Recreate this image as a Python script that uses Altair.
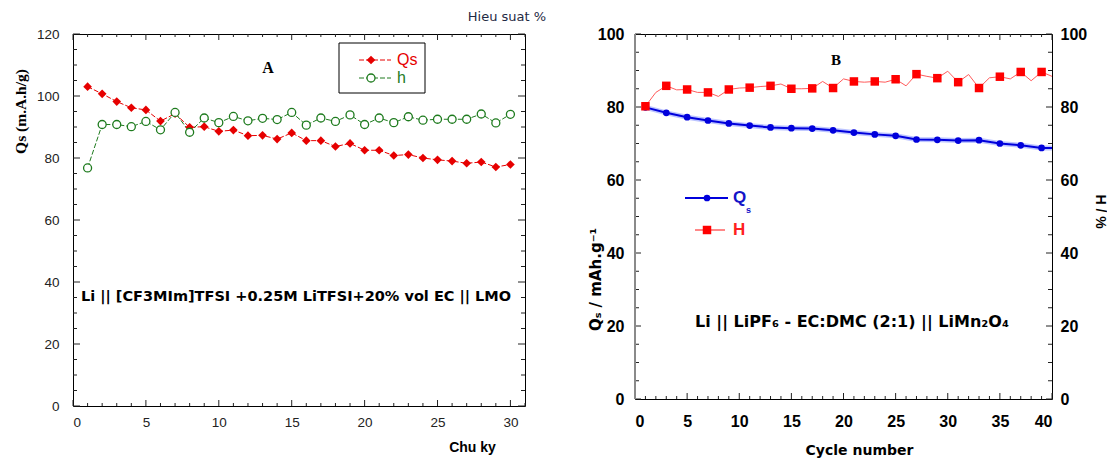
import altair as alt
import pandas as pd

SANS = "Liberation Sans"
WIDE = "DejaVu Sans"
SERIF = "Liberation Serif"

# ---------------- Panel A data ----------------
a_cycle = list(range(1, 31))
a_qs = [103.0, 100.7, 98.2, 96.2, 95.5, 91.9, 94.3, 89.9, 90.1, 88.6,
        89.0, 87.2, 87.3, 86.1, 88.1, 85.6, 85.6, 83.7, 84.7, 82.5,
        82.5, 80.8, 81.1, 80.0, 79.4, 79.0, 78.3, 78.7, 77.1, 77.9]
a_h = [76.8, 90.8, 90.8, 90.1, 91.8, 89.1, 94.7, 88.3, 92.9, 91.4,
       93.4, 92.0, 92.8, 92.4, 94.7, 90.6, 92.9, 91.8, 93.9, 90.8,
       92.9, 91.4, 93.3, 92.2, 92.5, 92.5, 92.5, 94.2, 91.3, 94.1]
a_xlabels = [0, 5, 10, 15, 20, 25, 30]
a_xminor = [v for v in range(0, 32) if v % 5 != 0]
a_ylabels = [0, 20, 40, 60, 80, 100, 120]
a_yminor = [v for v in range(0, 121, 5) if v % 20 != 0]
a_legend = ["Qs", "h"]
a_title = "A"
a_note = "Li || [CF3MIm]TFSI +0.25M LiTFSI+20% vol EC || LMO"
a_right_note = "Hieu suat %"

# ---------------- Panel B data ----------------
b_qs_cycle = [1, 3, 5, 7, 9, 11, 13, 15, 17, 19, 21, 23, 25, 27, 29, 31, 33, 35, 37, 39]
b_qs = [79.9, 78.4, 77.2, 76.3, 75.5, 74.9, 74.4, 74.2, 74.1, 73.6,
        73.0, 72.5, 72.1, 71.1, 71.0, 70.8, 70.9, 70.0, 69.5, 68.8]
b_qs_end_cycle = [40]
b_qs_end = [68.8]
b_h_cycle = list(range(1, 41))
b_h = [80.2, 84.0, 85.8, 84.7, 84.8, 84.0, 84.0, 82.9, 84.8, 85.2,
       85.3, 85.6, 85.8, 86.3, 85.0, 85.0, 85.1, 87.0, 85.2, 87.7,
       87.0, 86.8, 87.0, 86.8, 87.6, 85.8, 89.0, 88.4, 87.9, 89.8,
       86.8, 88.9, 85.2, 88.0, 88.3, 87.7, 89.6, 87.2, 89.6, 88.4]
b_h_marked = [1, 3, 5, 7, 9, 11, 13, 15, 17, 19, 21, 23, 25, 27, 29, 31, 33, 35, 37, 39]
b_xlabels = [0, 5, 10, 15, 20, 25, 30, 35, 40]
b_xminor = [v for v in range(0, 41) if v % 5 != 0]
b_ylabels = [0, 20, 40, 60, 80, 100]
b_yminor = [v for v in range(0, 101, 5) if v % 20 != 0]
b_title = "B"
b_note = "Li || LiPF\u2086 - EC:DMC (2:1) || LiMn\u2082O\u2084"
b_left_title = "Q\u209b / mAh.g\u207b\u00b9"
b_right_title = "H / %"
b_x_title = "Cycle number"

RED = "#e60000"
GREEN = "#1e7b1e"
BLUE = "#0000dc"
BRED = "#ff0000"

WA, HA = 452, 372
WB, HB = 417, 365


def txt(label, x, y, size, color="black", weight="normal", font=SANS,
        align="center", baseline="middle"):
    return alt.Chart(pd.DataFrame({"t": [label]})).mark_text(
        x=x, y=y, fontSize=size, color=color, fontWeight=weight, font=font,
        align=align, baseline=baseline).encode(text="t:N")


def yticks(vals, field, enc_y, L, side, W):
    df = pd.DataFrame({field: vals})
    x1, x2 = (0, L) if side == "left" else (W, W - L)
    return alt.Chart(df).mark_rule(color="#222", strokeWidth=1).encode(
        y=enc_y, x=alt.value(x1), x2=alt.value(x2))


def xticks(vals, field, enc_x, L, side, H):
    df = pd.DataFrame({field: vals})
    y1, y2 = (H, H - L) if side == "bottom" else (0, L)
    return alt.Chart(df).mark_rule(color="#222", strokeWidth=1).encode(
        x=enc_x, y=alt.value(y1), y2=alt.value(y2))


def one():
    return pd.DataFrame({"k": [0]})


# ---------------- Panel A ----------------
sxA = alt.Scale(domain=[0, 31], nice=False)
syA = alt.Scale(domain=[0, 120], nice=False)
xA = alt.X("cycle:Q", scale=sxA, axis=alt.Axis(
    values=a_xlabels, title="Chu ky", labelFont=SANS, labelFontSize=13.5,
    labelColor="#222", labelPadding=9, titleFont=SANS, titleFontSize=14,
    titleFontWeight="bold", titleX=399, titleY=41, titleAlign="center",
    titleBaseline="middle", ticks=False, domain=False, grid=False))
yA = alt.Y("value:Q", scale=syA, axis=alt.Axis(
    values=a_ylabels, title="Qs (m.A.h/g)", labelFont=SANS, labelFontSize=13.5,
    labelColor="#222", labelPadding=14, titleFont=SERIF, titleFontSize=15.5,
    titleFontWeight="bold", titleX=-53, titleY=77, titleAlign="center",
    titleBaseline="middle", ticks=False, domain=False, grid=False))

dqa = pd.DataFrame({"cycle": a_cycle, "value": a_qs})
dha = pd.DataFrame({"cycle": a_cycle, "value": a_h})

a_layers = [
    alt.Chart(dqa).mark_line(color=RED, strokeWidth=1, strokeDash=[5, 2]).encode(x=xA, y=yA),
    alt.Chart(dha).mark_line(color=GREEN, strokeWidth=1, strokeDash=[5, 2]).encode(x=xA, y=yA),
    alt.Chart(dqa).mark_point(shape="diamond", filled=True, size=75, color=RED, opacity=1).encode(x=xA, y=yA),
    alt.Chart(dha).mark_point(shape="circle", fill="white", stroke=GREEN, strokeWidth=1.3,
                              size=64, opacity=1, fillOpacity=1).encode(x=xA, y=yA),
    yticks(a_ylabels, "value", yA, 7, "left", WA),
    yticks(a_yminor, "value", yA, 4, "left", WA),
    yticks(a_ylabels, "value", yA, 7, "right", WA),
    yticks(a_yminor, "value", yA, 4, "right", WA),
    xticks(a_xlabels, "cycle", xA, 6, "bottom", HA),
    xticks(a_xminor, "cycle", xA, 3, "bottom", HA),
    xticks(a_xlabels, "cycle", xA, 6, "top", HA),
    xticks(a_xminor, "cycle", xA, 3, "top", HA),
    # legend box
    alt.Chart(one()).mark_rect(fill="white", stroke="black", strokeWidth=1).encode(
        x=alt.value(266), x2=alt.value(352), y=alt.value(9), y2=alt.value(59)),
    alt.Chart(one()).mark_rule(color=RED, strokeWidth=1, strokeDash=[5, 2]).encode(
        x=alt.value(286), x2=alt.value(318), y=alt.value(26)),
    alt.Chart(one()).mark_rule(color=GREEN, strokeWidth=1, strokeDash=[5, 2]).encode(
        x=alt.value(286), x2=alt.value(318), y=alt.value(44)),
    alt.Chart(one()).mark_point(shape="diamond", filled=True, size=75, color=RED, opacity=1).encode(
        x=alt.value(298), y=alt.value(26)),
    alt.Chart(one()).mark_point(shape="circle", fill="white", stroke=GREEN, strokeWidth=1.3,
                                size=64, opacity=1, fillOpacity=1).encode(
        x=alt.value(298), y=alt.value(44)),
    txt(a_legend[0], 324, 26, 16, RED, align="left"),
    txt(a_legend[1], 324, 44, 16, GREEN, align="left"),
    txt(a_title, 195, 34, 16, "black", "bold", SERIF),
    txt(a_note, 223, 263, 14.5, "black", "bold", WIDE),
    txt(a_right_note, 434, -17, 13, "#1f2a44", "normal", WIDE),
]
panelA = alt.layer(*a_layers).properties(width=WA, height=HA)

# ---------------- Panel B ----------------
sxB = alt.Scale(domain=[0, 40], nice=False)
syB1 = alt.Scale(domain=[0, 100], nice=False)
syB2 = alt.Scale(domain=[0, 100], nice=False)
xB = alt.X("cycle:Q", scale=sxB, axis=alt.Axis(
    values=b_xlabels, title=b_x_title, labelFont=SANS, labelFontSize=16,
    labelFontWeight="bold", labelColor="black", labelPadding=14,
    titleFont=WIDE, titleFontSize=14, titleFontWeight="bold",
    titleX=224, titleY=51, titleAlign="center", titleBaseline="middle",
    ticks=False, domain=False, grid=False))
yB1 = alt.Y("value:Q", scale=syB1, axis=alt.Axis(
    orient="left", values=b_ylabels, title=b_left_title, labelFont=SANS,
    labelFontSize=16, labelFontWeight="bold", labelColor="black",
    labelPadding=11, titleFont=WIDE, titleFontSize=15, titleFontWeight="bold",
    titleX=-40, titleY=245, titleAlign="center", titleBaseline="middle",
    ticks=False, domain=False, grid=False))
yB2 = alt.Y("value:Q", scale=syB2, axis=alt.Axis(
    orient="right", values=b_ylabels, title=b_right_title, labelFont=SANS,
    labelFontSize=16, labelFontWeight="bold", labelColor="black",
    labelPadding=8, titleFont=SANS, titleFontSize=14, titleFontWeight="bold",
    titleX=47, titleY=177, titleAlign="center", titleBaseline="middle",
    titleAngle=90, ticks=False, domain=False, grid=False))

dqb = pd.DataFrame({"cycle": b_qs_cycle, "value": b_qs})
dqb_line = pd.DataFrame({"cycle": b_qs_cycle + b_qs_end_cycle, "value": b_qs + b_qs_end})
dhb = pd.DataFrame({"cycle": b_h_cycle, "value": b_h})
dhb_pts = dhb[dhb["cycle"].isin(b_h_marked)]

b_group1 = alt.layer(
    alt.Chart(dqb_line).mark_line(color="#8f9cff", strokeWidth=5, opacity=0.6).encode(x=xB, y=yB1),
    alt.Chart(dqb_line).mark_line(color=BLUE, strokeWidth=2).encode(x=xB, y=yB1),
    alt.Chart(dqb).mark_point(shape="circle", filled=True, size=45, color=BLUE, opacity=1).encode(x=xB, y=yB1),
    yticks(b_ylabels, "value", yB1, 6, "left", WB),
    yticks(b_yminor, "value", yB1, 4, "left", WB),
    yticks(b_ylabels, "value", yB1, 6, "right", WB),
    yticks(b_yminor, "value", yB1, 4, "right", WB),
    xticks(b_xlabels, "cycle", xB, 6, "bottom", HB),
    xticks(b_xminor, "cycle", xB, 3, "bottom", HB),
    xticks(b_xlabels, "cycle", xB, 6, "top", HB),
    xticks(b_xminor, "cycle", xB, 3, "top", HB),
    alt.Chart(one()).mark_rule(color="#8a8a8a", strokeWidth=2).encode(
        x=alt.value(0), y=alt.value(0), y2=alt.value(HB)),
    # legend
    alt.Chart(one()).mark_rule(color=BLUE, strokeWidth=2).encode(
        x=alt.value(50), x2=alt.value(93), y=alt.value(164)),
    alt.Chart(one()).mark_point(shape="circle", filled=True, size=45, color=BLUE, opacity=1).encode(
        x=alt.value(72), y=alt.value(164)),
    alt.Chart(one()).mark_rule(color="#ff6060", strokeWidth=1.5).encode(
        x=alt.value(60), x2=alt.value(90), y=alt.value(196)),
    alt.Chart(one()).mark_point(shape="square", filled=True, size=72, color=BRED, opacity=1).encode(
        x=alt.value(72), y=alt.value(196)),
    txt("Q", 98, 164, 17, "#1414c8", "bold", align="left"),
    txt("s", 111, 176, 9, "#1414c8", "bold", align="left"),
    txt("H", 98, 196, 17, "#ff2020", "bold", align="left"),
    txt(b_title, 201, 26, 15, "black", "bold", SERIF),
    txt(b_note, 217, 288, 16, "black", "bold", WIDE),
)
b_group2 = alt.layer(
    alt.Chart(dhb).mark_line(color="#ff5a5a", strokeWidth=1).encode(x=xB, y=yB2),
    alt.Chart(dhb_pts).mark_point(shape="square", filled=True, size=72, color=BRED, opacity=1).encode(x=xB, y=yB2),
)
panelB = alt.layer(b_group1, b_group2).resolve_scale(y="independent").properties(width=WB, height=HB)

chart = alt.hconcat(panelA, panelB, spacing=40).properties(
    padding={"left": 4, "top": 2, "right": 0, "bottom": 0},
    background="white",
).configure_view(stroke="black", strokeWidth=1)

chart.save("out.html", embed_options={"renderer": "svg", "actions": False})
